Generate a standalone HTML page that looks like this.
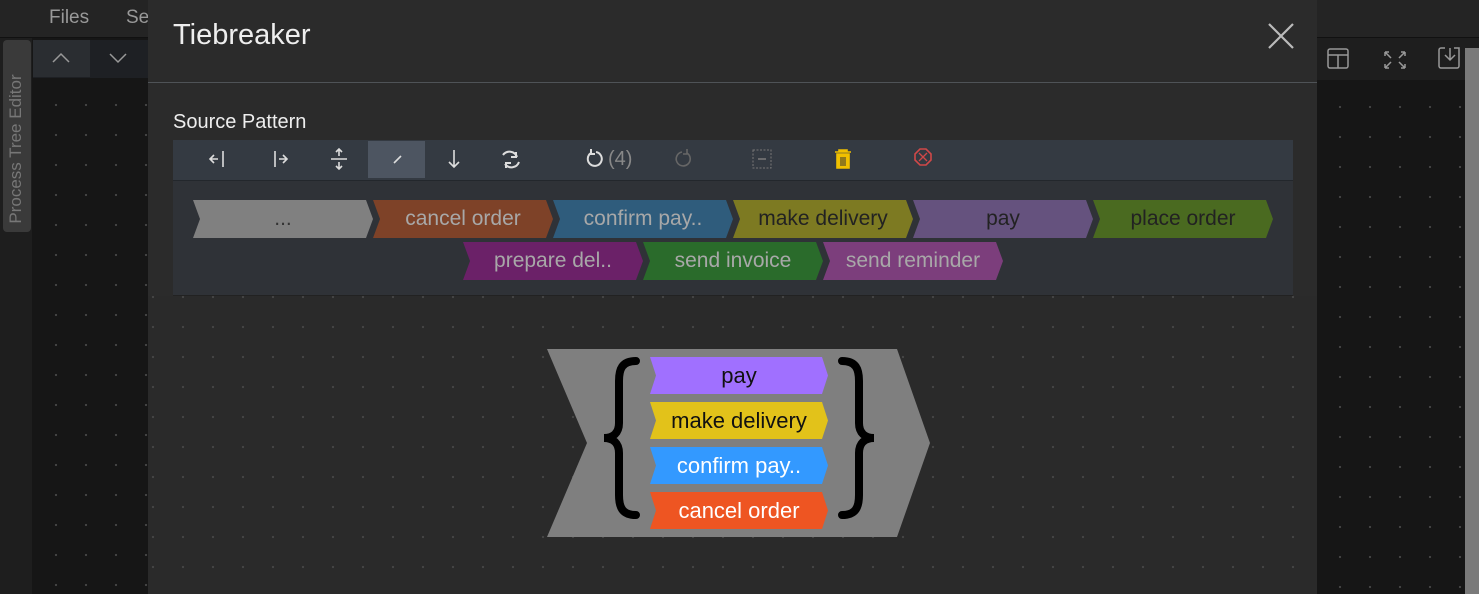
<!DOCTYPE html>
<html><head><meta charset="utf-8"><style>
*{margin:0;padding:0;box-sizing:border-box}
body{width:1479px;height:594px;overflow:hidden;background:#161616;font-family:"Liberation Sans",sans-serif;position:relative}
.abs{position:absolute}
.dots{background-image:radial-gradient(circle,#454545 1px,transparent 1.3px);background-size:30px 30px}
</style></head><body>
<div class="abs" style="left:0;top:0;width:1479px;height:38px;background:#242424;border-bottom:1px solid #111"></div>
<div class="abs" style="left:49px;top:7px;color:#999;font-size:19px">Files</div>
<div class="abs" style="left:126px;top:7px;color:#999;font-size:19px">Se</div>
<div class="abs" style="left:0;top:38px;width:32px;height:556px;background:#1e1e1e"></div>
<div class="abs" style="left:3px;top:40px;width:28px;height:192px;background:#3a3a3a;border-radius:4px"></div>
<div class="abs" style="left:-70px;top:135px;width:172px;height:28px;transform:rotate(-90deg);color:#777;font-size:17px;line-height:28px;text-align:center">Process Tree Editor</div>
<div class="abs dots" style="left:33px;top:78px;width:115px;height:516px;background-color:#161616;background-position:8px 12px"></div>
<div class="abs" style="left:33px;top:40px;width:115px;height:38px;background:#1e2024"></div>
<div class="abs" style="left:33px;top:40px;width:57px;height:37px;background:#2a2d31"></div>
<svg class="abs" style="left:50px;top:50px" width="80" height="16"><polyline points="3,12 11,4 19,12" fill="none" stroke="#999" stroke-width="1.5"/><polyline points="60,4 68,12 76,4" fill="none" stroke="#999" stroke-width="1.5"/></svg>
<div class="abs" style="left:1317px;top:38px;width:162px;height:42px;background:#1e1e1e"></div>
<div class="abs dots" style="left:1317px;top:80px;width:148px;height:514px;background-color:#161616;background-position:8px 12px"></div>
<div class="abs" style="left:1465px;top:48px;width:14px;height:546px;background:#7a7a7a"></div>
<svg class="abs" style="left:1320px;top:44px" width="145" height="30" fill="none" stroke="#999" stroke-width="1.5">
<rect x="8" y="5" width="20" height="19" rx="2"/><line x1="8" y1="11" x2="28" y2="11"/><line x1="18" y1="11" x2="18" y2="24"/>
<path d="M65 8l6 6M65 8h4M65 8v4M85 8l-6 6M85 8h-4M85 8v4M65 24l6-6M65 24h4M65 24v-4M85 24l-6-6M85 24h-4M85 24v-4"/>
<path d="M125 4h-4a2 2 0 0 0-2 2v16a2 2 0 0 0 2 2h16a2 2 0 0 0 2-2V4h-5M130 4v12M125 11l5 5 5-5"/>
</svg>
<div class="abs" style="left:148px;top:0;width:1169px;height:594px;background:#2b2b2b"></div>
<div class="abs dots" style="left:148px;top:296px;width:1169px;height:298px;background-color:#2a2a2a;background-position:-10px 16px"></div>
<div class="abs" style="left:148px;top:82px;width:1169px;height:1px;background:#4f5357"></div>
<div class="abs" style="left:173px;top:19px;color:#eee;font-size:29px">Tiebreaker</div>
<svg class="abs" style="left:1266px;top:22px" width="30" height="28"><path d="M3 2L27 26M27 2L3 26" stroke="#bbb" stroke-width="2.2"/></svg>
<div class="abs" style="left:173px;top:111px;color:#eee;font-size:20px">Source Pattern</div>
<div class="abs" style="left:173px;top:140px;width:1120px;height:41px;background:#343a42;border-bottom:1px solid #23272c"></div>
<div class="abs" style="left:368px;top:141px;width:57px;height:37px;background:#4d5561"></div>
<div class="abs" style="left:173px;top:181px;width:1120px;height:115px;background:#2f3237;border-bottom:1px solid #222"></div>
<svg class="abs" style="left:173px;top:140px" width="1120" height="40" fill="none" stroke="#ddd" stroke-width="1.6">
<path d="M45 19h-8M41 15l-4 4 4 4M50 11v16"/>
<path d="M102 11v16M106 19h8M110 15l4 4-4 4"/>
<path d="M158 19h16M166 9v7M163 12l3-3 3 3M166 22v7M163 26l3 3 3-3"/>
<path d="M221 23l7-7"/>
<path d="M281 10v17M276 22l5 5 5-5"/>
<path d="M330 15a8 8 0 0 1 14 2M346 22a8 8 0 0 1-14 2M343 12v5h-5M333 28v-5h5" stroke-width="2"/>
<path d="M418 13a7 7 0 1 0 5-1M418 9v5h4" stroke-width="2"/>
<path d="M514 13a7 7 0 1 1-5-1M514 9v5h-4" stroke="#666"/>
<rect x="580" y="10" width="18" height="18" stroke="#777" stroke-dasharray="2 1.5" stroke-width="1"/><path d="M585 19h8" stroke="#777"/>
<path d="M662 12h16M666 12v-2h8v2M664 14h12v14h-12z" stroke="#f0c000" fill="#f0c000"/><path d="M668 17v9M670 17v9M672 17v9" stroke="#2f3237" stroke-width="1"/>
<path d="M747 9h6l5 5v6l-5 5h-6l-5-5v-6z" stroke="#d04848"/><path d="M746 13l8 8M754 13l-8 8" stroke="#d04848" stroke-width="1.3"/>
</svg>
<div class="abs" style="left:608px;top:148px;color:#888;font-size:20px">(4)</div>
<svg class="abs" style="left:0;top:0" width="1479" height="594" font-family="Liberation Sans, sans-serif" text-anchor="middle">
<defs><path id="c" d="M0 0h173l7 19-7 19h-173l7-19z"/></defs>
<g font-size="21">
<use href="#c" x="193" y="200" fill="#808080"/><text x="283" y="225" fill="#333">...</text>
<use href="#c" x="373" y="200" fill="#7e4228"/><text x="463" y="225" fill="#a8a8a8">cancel order</text>
<use href="#c" x="553" y="200" fill="#2f5c7c"/><text x="643" y="225" fill="#a8a8a8">confirm pay..</text>
<use href="#c" x="733" y="200" fill="#7d7a22"/><text x="823" y="225" fill="#222">make delivery</text>
<use href="#c" x="913" y="200" fill="#65527e"/><text x="1003" y="225" fill="#222">pay</text>
<use href="#c" x="1093" y="200" fill="#4a6a20"/><text x="1183" y="225" fill="#222">place order</text>
<use href="#c" x="463" y="242" fill="#6b2168"/><text x="553" y="267" fill="#a8a8a8">prepare del..</text>
<use href="#c" x="643" y="242" fill="#2a6b2b"/><text x="733" y="267" fill="#a8a8a8">send invoice</text>
<use href="#c" x="823" y="242" fill="#7c3e7c"/><text x="913" y="267" fill="#a8a8a8">send reminder</text>
</g>
<path d="M547 349h350l33 94-33 94h-350l40-94z" fill="#7f7f7f"/>
<defs><path id="d" d="M0 0h172l6 18.5-6 18.5h-172l6-18.5z"/></defs>
<g font-size="22">
<use href="#d" x="650" y="357" fill="#a070ff"/><text x="739" y="383" fill="#111">pay</text>
<use href="#d" x="650" y="402" fill="#e2c21a"/><text x="739" y="428" fill="#111">make delivery</text>
<use href="#d" x="650" y="447" fill="#3399ff"/><text x="739" y="473" fill="#fff">confirm pay..</text>
<use href="#d" x="650" y="492" fill="#ee5522"/><text x="739" y="518" fill="#fff">cancel order</text>
</g>
<g fill="none" stroke="#000" stroke-width="8" stroke-linecap="round">
<path d="M636 361c-14 0-17 8-17 20v42c0 10-6 15-15 15c9 0 15 5 15 15v42c0 12 3 20 17 20"/>
<path d="M842 361c14 0 17 8 17 20v42c0 10 6 15 15 15c-9 0-15 5-15 15v42c0 12-3 20-17 20"/>
</g>
</svg>
</body></html>
